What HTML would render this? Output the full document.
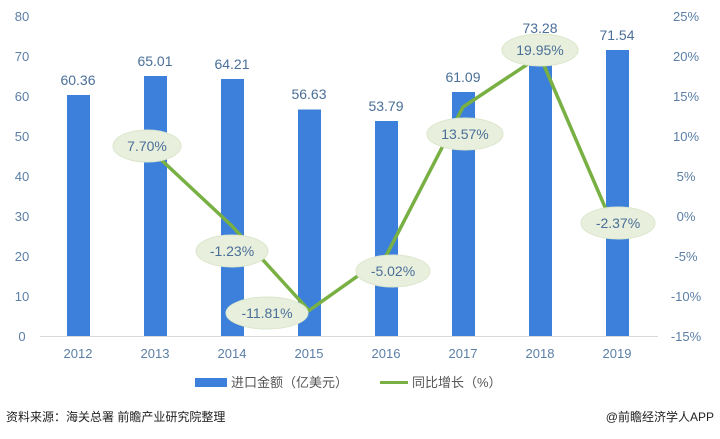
<!DOCTYPE html>
<html><head><meta charset="utf-8"><style>
body{margin:0;background:#fff;}
svg text{font-family:"Liberation Sans","Noto Sans CJK SC",sans-serif;}
</style></head><body>
<svg width="720" height="434" viewBox="0 0 720 434" xmlns="http://www.w3.org/2000/svg">
<g font-size="13" fill="#5b7fa6" text-anchor="middle">
<text x="22" y="21">80</text><text x="22" y="61">70</text><text x="22" y="101">60</text><text x="22" y="141">50</text><text x="22" y="181">40</text><text x="22" y="221">30</text><text x="22" y="261">20</text><text x="22" y="301">10</text><text x="22" y="341">0</text>
</g>
<g font-size="13" fill="#5b7fa6" text-anchor="middle">
<text x="686" y="21">25%</text><text x="686" y="61">20%</text><text x="686" y="101">15%</text><text x="686" y="141">10%</text><text x="686" y="181">5%</text><text x="686" y="221">0%</text><text x="686" y="261">-5%</text><text x="686" y="301">-10%</text><text x="686" y="341">-15%</text>
</g>
<line x1="40" y1="336.5" x2="658" y2="336.5" stroke="#d9d9d9"/>
<g fill="#3c80dc">
<rect x="67" y="95" width="23" height="241"/>
<rect x="144" y="76" width="23" height="260"/>
<rect x="221" y="79" width="23" height="257"/>
<rect x="298" y="109.5" width="23" height="226.5"/>
<rect x="375" y="121" width="23" height="215"/>
<rect x="452" y="92" width="23" height="244"/>
<rect x="529" y="43" width="23" height="293"/>
<rect x="606" y="50" width="23" height="286"/>
</g>
<g font-size="14" fill="#4a6f98" text-anchor="middle">
<text x="78" y="85">60.36</text><text x="155" y="66">65.01</text><text x="232" y="69">64.21</text><text x="309" y="99">56.63</text><text x="386" y="111">53.79</text><text x="463" y="82">61.09</text><text x="540" y="33">73.28</text><text x="617" y="40">71.54</text>
</g>
<g font-size="13" fill="#5b7fa6" text-anchor="middle">
<text x="78" y="358">2012</text><text x="155" y="358">2013</text><text x="232" y="358">2014</text><text x="309" y="358">2015</text><text x="386" y="358">2016</text><text x="463" y="358">2017</text><text x="540" y="358">2018</text><text x="617" y="358">2019</text>
</g>
<polyline points="155,154 232,226 309,310.5 386,256 463,107 540,56 617,235" fill="none" stroke="#78b043" stroke-width="3.5" stroke-linejoin="round"/>
<g fill="#e8efdc" stroke="#dce6cc">
<ellipse cx="147" cy="146" rx="34" ry="16"/>
<ellipse cx="232" cy="251" rx="36" ry="16"/>
<ellipse cx="267" cy="313" rx="41" ry="16"/>
<ellipse cx="393" cy="271" rx="37" ry="16"/>
<ellipse cx="465" cy="134" rx="38" ry="16"/>
<ellipse cx="540" cy="50" rx="38" ry="16"/>
<ellipse cx="618" cy="223" rx="37" ry="16"/>
</g>
<g font-size="14" fill="#4a6f98" text-anchor="middle">
<text x="147" y="151">7.70%</text><text x="232" y="256">-1.23%</text><text x="267" y="318">-11.81%</text><text x="393" y="276">-5.02%</text><text x="465" y="139">13.57%</text><text x="540" y="55">19.95%</text><text x="618" y="228">-2.37%</text>
</g>
<rect x="195" y="378" width="32" height="9" fill="#3c80dc"/>
<text x="231" y="387" font-size="13" fill="#555">进口金额（亿美元）</text>
<line x1="380" y1="382.5" x2="408" y2="382.5" stroke="#78b043" stroke-width="3"/>
<text x="412" y="387" font-size="13" fill="#555">同比增长（%）</text>
<text x="6" y="421" font-size="12" fill="#222">资料来源：海关总署 前瞻产业研究院整理</text>
<text x="714" y="421" font-size="12" fill="#222" text-anchor="end">@前瞻经济学人APP</text>
</svg>
</body></html>
